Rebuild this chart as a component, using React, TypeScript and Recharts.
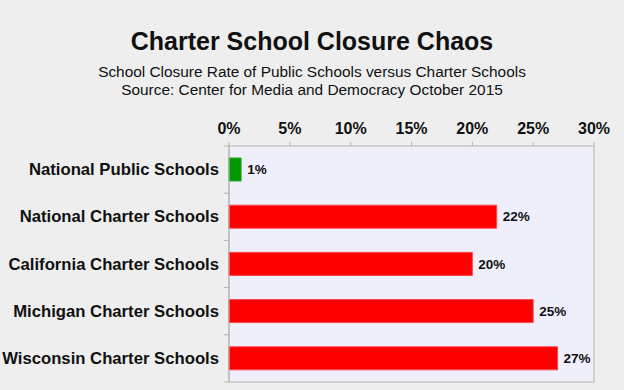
import React from "react";
import {
  BarChart,
  Bar,
  XAxis,
  YAxis,
  CartesianGrid,
  Cell,
  LabelList,
} from "recharts";

const categories = [
  "National Public Schools",
  "National Charter Schools",
  "California Charter Schools",
  "Michigan Charter Schools",
  "Wisconsin Charter Schools",
];
const closureRates = [1, 22, 20, 25, 27];
const barColors = ["#009900", "#ff0000", "#ff0000", "#ff0000", "#ff0000"];
const barStrokes = ["#33aa33", "#ff4444", "#ff4444", "#ff4444", "#ff4444"];
const xTicks = [0, 5, 10, 15, 20, 25, 30];

const data = categories.map((name, i) => ({ name, rate: closureRates[i] }));

const FONT = "'Liberation Sans', Arial, sans-serif";

const CategoryTick = (props: any) => {
  const { x, y, payload, index } = props;
  const off = payload && typeof payload.offset === "number" ? payload.offset : 0;
  return (
    <g>
      <text
        x={x - 2}
        y={y}
        textAnchor="end"
        dominantBaseline="central"
        fontFamily={FONT}
        fontWeight="bold"
        fontSize={16.7}
        fill="#111"
      >
        {payload.value}
      </text>
      {off > 0 && (
        <line x1={x + 3} x2={x + 8} y1={y - off} y2={y - off} stroke="#b3b3b3" />
      )}
      {off > 0 && index === categories.length - 1 && (
        <line x1={x + 3} x2={x + 8} y1={y + off} y2={y + off} stroke="#b3b3b3" />
      )}
    </g>
  );
};

export default function App() {
  return (
    <div
      style={{
        position: "absolute",
        left: 0,
        top: 0,
        width: 624,
        height: 390,
        background: "#eeeeee",
        fontFamily: FONT,
        overflow: "hidden",
      }}
    >
      <div
        style={{
          position: "absolute",
          left: 0,
          width: 624,
          top: 26,
          textAlign: "center",
          fontSize: 25,
          fontWeight: "bold",
          color: "#111",
          lineHeight: "30px",
        }}
      >
        Charter School Closure Chaos
      </div>
      <div
        style={{
          position: "absolute",
          left: 0,
          width: 624,
          top: 63,
          textAlign: "center",
          fontSize: 15.4,
          color: "#111",
          lineHeight: "18px",
        }}
      >
        School Closure Rate of Public Schools versus Charter Schools
        <br />
        Source: Center for Media and Democracy October 2015
      </div>
      <div style={{ position: "absolute", left: 0, top: 0 }}>
        <BarChart
          width={624}
          height={390}
          data={data}
          layout="vertical"
          margin={{ top: 116, right: 30, bottom: 7, left: 0 }}
          barSize={23}
        >
          <CartesianGrid
            horizontal={false}
            vertical={true}
            stroke="#b3b3b3"
            fill="#efeffc"
            fillOpacity={1}
          />
          <XAxis
            xAxisId="top"
            type="number"
            orientation="top"
            domain={[0, 30]}
            ticks={xTicks}
            interval={0}
            height={30}
            tickFormatter={(v: number) => `${v}%`}
            tick={{
              fontFamily: FONT,
              fontWeight: "bold",
              fontSize: 16,
              fill: "#111",
            }}
            tickSize={4}
            tickMargin={8}
            stroke="#b3b3b3"
          />
          <XAxis
            xAxisId="bottom"
            type="number"
            orientation="bottom"
            domain={[0, 30]}
            ticks={xTicks}
            height={1}
            tick={false}
            tickLine={false}
            stroke="#b3b3b3"
          />
          <YAxis
            type="category"
            dataKey="name"
            width={229}
            tick={<CategoryTick />}
            tickLine={false}
            stroke="#b3b3b3"
            interval={0}
          />
          <Bar
            dataKey="rate"
            xAxisId="top"
            isAnimationActive={false}
          >
            {data.map((d, i) => (
              <Cell key={d.name} fill={barColors[i]} stroke={barStrokes[i]} />
            ))}
            <LabelList
              dataKey="rate"
              position="right"
              offset={6}
              formatter={(v: any) => `${v}%`}
              style={{
                fontFamily: FONT,
                fontWeight: "bold",
                fontSize: 13.5,
                fill: "#111",
              }}
            />
          </Bar>
        </BarChart>
      </div>
    </div>
  );
}
